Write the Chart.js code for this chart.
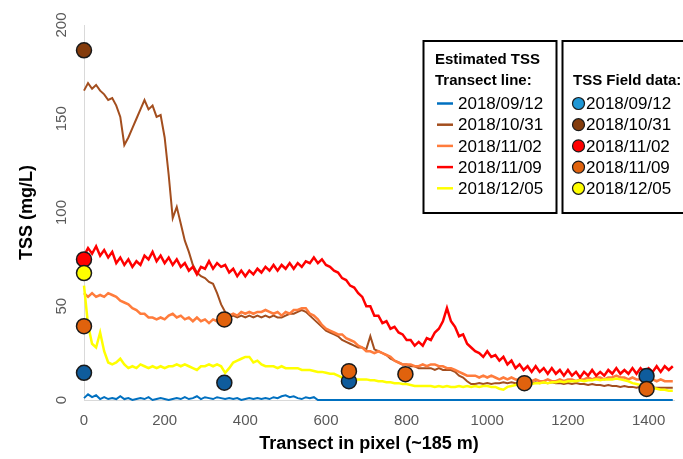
<!DOCTYPE html>
<html>
<head>
<meta charset="utf-8">
<script src="https://cdn.jsdelivr.net/npm/chart.js@4.4.0/dist/chart.umd.min.js"></script>
<style>
html,body{margin:0;padding:0;background:#ffffff;}
#wrap{width:683px;height:459px;position:relative;}
canvas{display:block;}
</style>
</head>
<body>
<div id="wrap"><canvas id="c" width="683" height="459"></canvas></div>
<script>
// ---------- DATA ----------
const transectPx = [0,10,20,30,40,50,60,70,80,90,100,110,120,130,140,150,160,170,180,190,200,210,220,230,240,250,260,270,280,290,300,310,320,330,340,350,360,370,380,390,400,410,420,430,440,450,460,470,480,490,500,510,520,530,540,550,560,570,580,590,600,610,620,630,640,650,660,670,680,690,700,710,720,730,740,750,760,770,780,790,800,810,820,830,840,850,860,870,880,890,900,910,920,930,940,950,960,970,980,990,1000,1010,1020,1030,1040,1050,1060,1070,1080,1090,1100,1110,1120,1130,1140,1150,1160,1170,1180,1190,1200,1210,1220,1230,1240,1250,1260,1270,1280,1290,1300,1310,1320,1330,1340,1350,1360,1370,1380,1390,1400,1410,1420,1430,1440,1450,1460];

const tss0912 = [1,3,1.5,2.5,0.5,1.5,0.5,1,0.5,2, 0.5,1,0,0.5,1,0.5,1.5,0,0.5,1, 0.5,0,0.5,1,0.5,1.5,0.5,1,2,0.5, 1.5,1,0.5,1.5,1,0.5,1,0.5,1,0, 0.5,1,0.5,1,0.5,1,0.5,1.5,1,2, 2.5,1.5,2,1,0.5,1.5,1,1.5,0,0, 0,0,0,0,0,0,0,0,0,0, 0,0,0,0,0,0,0,0,0,0, 0,0,0,0,0,0,0,0,0,0, 0,0,0,0,0,0,0,0,0,0, 0,0,0,0,0,0,0,0,0,0, 0,0,0,0,0,0,0,0,0,0, 0,0,0,0,0,0,0,0,0,0, 0,0,0,0,0,0,0,0,0,0, 0,0,0,0,0,0,0];

const tss1031 = [165,169,166,168,165,163,160,161,157,151, 136,140,145,150,155,160,155,157,151,152, 140,120,97,103,94,85,79,72,68,66, 65,63,62,57,51,47,44,45,44,45, 44,45,44,45,44,45,44,45,44,44, 45,46,46,47,48,47,45,43,41,39, 37,36,35,34,32,31,30,29,28,28, 27,34,27,26,25,24,22,21,20,19, 19,18,18,17,17,17,17,16,17,16, 16,16,15,13,12,10,8.5,8.5,9,8.5, 9,8.5,9,9,9.5,9,9.5,9,9.5,9, 9.5,9,9.5,9,9.5,9,9.5,9,9,8.5, 9,8.5,9,8.5,8.5,8,8.5,8,8,7.5, 8,7.5,7.5,7,7.5,7,7,6.5,7,6.5, 6.5,6.5,6.5,6.5,6.5,6.5,6.5];

const tss1102 = [57,55,57,55,56,55,57,56,55,53, 52,51,49,48,46,46,44,44,43,44, 43,45,46,44,45,43,44,42,44,42, 43,41,43,42,43,44,45,46,45,47, 46,47,46,47,47,48,47,46,47,45, 47,46,48,48,49,49,46,45,43,40, 38,37,36,35,35,33,32,31,29,28, 26,26,25,26,25,24,23,21,20,19, 19,19,18,18,19,18,19,19,18,18, 17,17,16,15,14,13,13,13,12,13, 12,13,12,11,12,11,12,11,11,10, 11,10,11,10,10,11,10,10,11,10, 11,11,10,11,11,12,11,12,12,11, 12,12,13,12,12,11,12,11,11,12, 11,11,10,11,10,10,10];

const tss1109 = [77,81,78,82,77,80,76,79,73,76, 72,75,71,74,72,77,75,79,74,77, 73,76,72,75,71,73,69,71,67,71, 70,74,70,73,71,72,68,70,66,69, 66,69,67,70,68,71,69,72,69,72, 70,73,70,73,71,74,73,76,73,75, 72,71,69,68,65,64,61,60,57,55, 50,50,45,45,41,42,38,39,36,35, 32,32,29,31,29,33,32,36,38,42, 49,42,39,34,35,30,28,26,25,23, 26,23,24,21,23,19,21,17,19,16, 18,15,18,15,17,14,17,14,16,13, 16,13,15,12,15,13,16,13,15,13, 16,14,17,14,16,14,17,14,17,15, 17,15,18,15,18,16,18];

const tss1205 = [61,40,30,28,36,26,20,19,20,22, 19,17,18,17,19,18,17,18,17,18, 17,18,18,19,18,19,18,17,16,18, 18,19,18,19,18,14.5,17,20,21,22, 23,23,20,21,19,18,18,18,17,18, 17,17,17,17,16,16,16,15.5,15,15, 14.5,14,14,13,12,11.5,11,11,11,11, 11,10.5,10.5,10,10,9.5,9.5,9,9,8.5, 8.5,8,7.5,7.5,7.5,7.5,7.5,7,7.5,7, 7.5,7,7,7.5,7,7.5,7,7.5,7,7.5, 7.5,7,7,6,5.5,7,7.5,8,8.5,8.5, 9,8.5,9,9,9.5,9,9.5,9.5,10,9.5, 10,10,10,10.5,10,10.5,10.5,11,10.5,11, 11,11,11.5,11,10.5,10,9,8.5,8,7.5, 7,6.5,6,5.5,5.5,5,5];

// field measurements
const field0912X = [0,348,657,1395];
const field0912Y = [14.5,9.2,10,12.8];
const field1031X = [0];
const field1031Y = [186.5];
const field1102X = [0];
const field1102Y = [75];
const field1109X = [0,348,657,797,1092,1395];
const field1109Y = [39.4,43,15.4,13.8,9,5.9];
const field1205X = [0];
const field1205Y = [67.7];

const seriesLabels = ['2018/09/12','2018/10/31','2018/11/02','2018/11/09','2018/12/05'];
const xTickValues = [0,200,400,600,800,1000,1200,1400];
const yTickValues = [0,50,100,150,200];
const xAxisTitle = 'Transect in pixel (~185 m)';
const yAxisTitle = 'TSS (mg/L)';
const lineLegendTitle = ['Estimated TSS','Transect line:'];
const pointLegendTitle = 'TSS Field data:';

// ---------- STYLES ----------
const lineColors = ['#0070C0','#A34E1E','#FF7C3C','#FF0000','#FFFF00'];
const lineWidths = [2, 2, 2.5, 2.5, 2.5];
const markerColors = ['#0F5C9C','#843C0C','#FF0000','#E0620D','#FFFF00'];
const legendMarkerColors = ['#1F97D5','#843C0C','#FF0000','#E0620D','#FFFF00'];

Chart.defaults.font.family = '"Liberation Sans", Arial, sans-serif';

const toXY = arr => transectPx.map((x, i) => ({x: x, y: arr[i]}));
const toPts = (xs, ys) => xs.map((x, i) => ({x: x, y: ys[i]}));

const lineSeries = [tss0912, tss1031, tss1102, tss1109, tss1205];
const pointSeries = [
  toPts(field0912X, field0912Y),
  toPts(field1031X, field1031Y),
  toPts(field1102X, field1102Y),
  toPts(field1109X, field1109Y),
  toPts(field1205X, field1205Y)
];

const datasets = [];
lineSeries.forEach((arr, i) => {
  datasets.push({
    label: 'Estimated ' + seriesLabels[i],
    data: toXY(arr),
    borderColor: lineColors[i],
    backgroundColor: lineColors[i],
    borderWidth: lineWidths[i],
    pointRadius: 0,
    tension: 0,
    fill: false,
    clip: false,
    order: 24 - i
  });
});
pointSeries.forEach((pts, i) => {
  datasets.push({
    label: 'Field ' + seriesLabels[i],
    data: pts,
    showLine: false,
    pointRadius: 7.5,
    pointBorderWidth: 1.5,
    pointBorderColor: '#1a1a1a',
    pointBackgroundColor: markerColors[i],
    borderColor: '#1a1a1a',
    backgroundColor: markerColors[i],
    clip: false,
    order: 5 - i
  });
});

const customDecor = {
  id: 'customDecor',
  afterDraw(chart) {
    const ctx = chart.ctx;
    ctx.save();
    // x-axis title
    ctx.fillStyle = '#000';
    ctx.font = 'bold 18px "Liberation Sans", Arial, sans-serif';
    ctx.textAlign = 'center';
    ctx.textBaseline = 'middle';
    ctx.fillText(xAxisTitle, 369, 444);

    // legend boxes
    ctx.fillStyle = '#fff';
    ctx.fillRect(423, 41, 134, 173);
    ctx.fillRect(562, 41, 130, 173);
    ctx.strokeStyle = '#000';
    ctx.lineWidth = 2;
    ctx.strokeRect(423.5, 41, 133, 172);
    ctx.strokeRect(562.5, 41, 130, 172);

    ctx.fillStyle = '#000';
    ctx.textAlign = 'left';
    ctx.font = 'bold 15px "Liberation Sans", Arial, sans-serif';
    ctx.fillText(lineLegendTitle[0], 435, 60);
    ctx.fillText(lineLegendTitle[1], 435, 81);
    ctx.fillText(pointLegendTitle, 573, 81);

    ctx.font = '17px "Liberation Sans", Arial, sans-serif';
    seriesLabels.forEach((lab, i) => {
      const y = 103.5 + i * 21.2;
      ctx.strokeStyle = chart.data.datasets[i].borderColor;
      ctx.lineWidth = 2.5;
      ctx.beginPath();
      ctx.moveTo(437, y);
      ctx.lineTo(453, y);
      ctx.stroke();
      ctx.fillStyle = '#000';
      ctx.fillText(lab, 458, y + 1);

      ctx.beginPath();
      ctx.arc(578.5, y, 6, 0, Math.PI * 2);
      ctx.fillStyle = legendMarkerColors[i];
      ctx.fill();
      ctx.lineWidth = 1.2;
      ctx.strokeStyle = '#1a1a1a';
      ctx.stroke();
      ctx.fillStyle = '#000';
      ctx.fillText(lab, 586, y + 1);
    });
    ctx.restore();
  }
};

new Chart(document.getElementById('c'), {
  type: 'line',
  data: { datasets: datasets },
  plugins: [customDecor],
  options: {
    responsive: false,
    animation: false,
    devicePixelRatio: 1,
    layout: { padding: { top: 25, left: 0, right: 0, bottom: 0 } },
    plugins: { legend: { display: false }, tooltip: { enabled: false } },
    scales: {
      x: {
        type: 'linear',
        min: 0,
        max: 1463,
        grid: { display: false, drawTicks: false },
        border: { display: true, color: '#D9D9D9', width: 1 },
        ticks: { color: '#595959', font: { size: 15 }, padding: 12, minRotation: 0, maxRotation: 0, callback: v => String(v) },
        afterBuildTicks: s => { s.ticks = xTickValues.map(v => ({ value: v })); },
        afterFit: s => { s.height = 59; }
      },
      y: {
        type: 'linear',
        min: 0,
        max: 200,
        grid: { display: false, drawTicks: false },
        border: { display: true, color: '#D9D9D9', width: 1 },
        ticks: { color: '#595959', font: { size: 15 }, minRotation: 90, maxRotation: 90, crossAlign: 'center', padding: 10, callback: v => String(v) },
        title: { display: true, text: yAxisTitle, color: '#000', font: { size: 18, weight: 'bold' }, padding: { top: 16, bottom: 0 } },
        afterBuildTicks: s => { s.ticks = yTickValues.map(v => ({ value: v })); },
        afterFit: s => { s.width = 84; }
      }
    }
  }
});
</script>
</body>
</html>
